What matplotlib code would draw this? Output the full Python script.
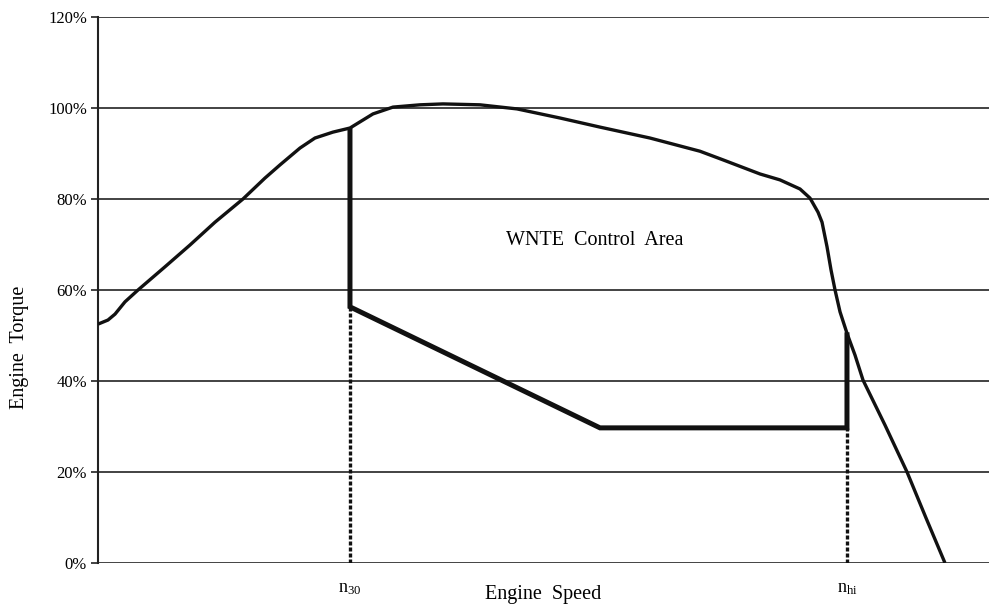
import matplotlib
matplotlib.use("Agg")
import matplotlib.pyplot as plt

plt.rcParams['font.family'] = ['Liberation Serif', 'DejaVu Serif']
plt.rcParams['mathtext.fontset'] = 'custom'
plt.rcParams['mathtext.rm'] = 'Liberation Serif'
plt.rcParams['mathtext.it'] = 'Liberation Serif'

# Full-load torque curve (engine speed in arbitrary 0-100 units, torque in %)
speed = [0, 1.12, 1.91, 3.03, 4.49, 7.52, 10.33, 13.13, 16.27, 18.74, 20.43,
         22.67, 24.35, 26.37, 28.28, 30.86, 33.11, 36.14, 38.72, 42.87, 47.03,
         51.85, 56.34, 61.95, 67.56, 70.15, 74.3, 76.54, 78.79, 79.91, 80.81,
         81.26, 81.82, 82.27, 82.72, 83.28, 84.06, 84.96, 85.86, 88.33, 90.8,
         92.93, 95.06]
torque = [52.5, 53.4, 54.7, 57.4, 60.0, 65.1, 69.9, 74.9, 80.0, 84.6, 87.5,
          91.2, 93.4, 94.7, 95.6, 98.7, 100.2, 100.7, 100.9, 100.7, 99.8,
          97.8, 95.8, 93.4, 90.5, 88.6, 85.5, 84.2, 82.2, 80.2, 77.1,
          74.9, 69.5, 64.4, 60.0, 55.2, 50.5, 45.7, 40.2, 30.3, 20.0,
          9.9, 0.0]

# WNTE control area boundary
n30 = 28.28
nhi = 84.06
wnte_x = [n30, n30, 56.34, nhi, nhi]
wnte_y = [95.6, 56.3, 29.7, 29.7, 50.7]

yticks = [0, 20, 40, 60, 80, 100, 120]
ytick_labels = ['0%', '20%', '40%', '60%', '80%', '100%', '120%']
xtick_pos = [n30, nhi]
xtick_labels = [r'n$_{\mathrm{30}}$', r'n$_{\mathrm{hi}}$']

fig = plt.figure(figsize=(9.89, 6.10), dpi=100)
ax = fig.add_axes([98/989, 1-563/610, 1-98/989, (563-17)/610])

for yv in yticks:
    ax.axhline(yv, color='#222222', lw=1.2, zorder=1)

ax.plot(speed, torque, color='#111111', lw=2.4, zorder=3,
        solid_capstyle='butt', solid_joinstyle='round')
ax.plot(wnte_x, wnte_y, color='#111111', lw=3.6, zorder=3,
        solid_joinstyle='miter', solid_capstyle='butt')
ax.plot([n30, n30], [0, wnte_y[1]], color='#111111', lw=2.4,
        linestyle=(0, (1.2, 0.6)), zorder=2)
ax.plot([nhi, nhi], [0, wnte_y[3]], color='#111111', lw=2.4,
        linestyle=(0, (1.2, 0.6)), zorder=2)

ax.set_xlim(0, 100)
ax.set_ylim(0, 120)
ax.set_yticks(yticks)
ax.set_yticklabels(ytick_labels, fontsize=12)
ax.set_xticks(xtick_pos)
ax.set_xticklabels(xtick_labels, fontsize=13)
ax.tick_params(axis='y', length=5, width=1.2, color='#222222', pad=3)
ax.tick_params(axis='x', length=0, pad=12)

for s in ['top', 'right', 'bottom']:
    ax.spines[s].set_visible(False)
ax.spines['left'].set_color('#222222')
ax.spines['left'].set_linewidth(1.5)

ax.text(55.8, 70.8, 'WNTE  Control  Area', fontsize=14.5, ha='center', va='center')
fig.text(543/989, 1-595/610, 'Engine  Speed', fontsize=14.5, ha='center', va='center')
fig.text(20/989, 1-347/610, 'Engine  Torque', fontsize=14.5, ha='center', va='center',
         rotation=90)

fig.savefig('out.png', dpi=100, facecolor='white')
